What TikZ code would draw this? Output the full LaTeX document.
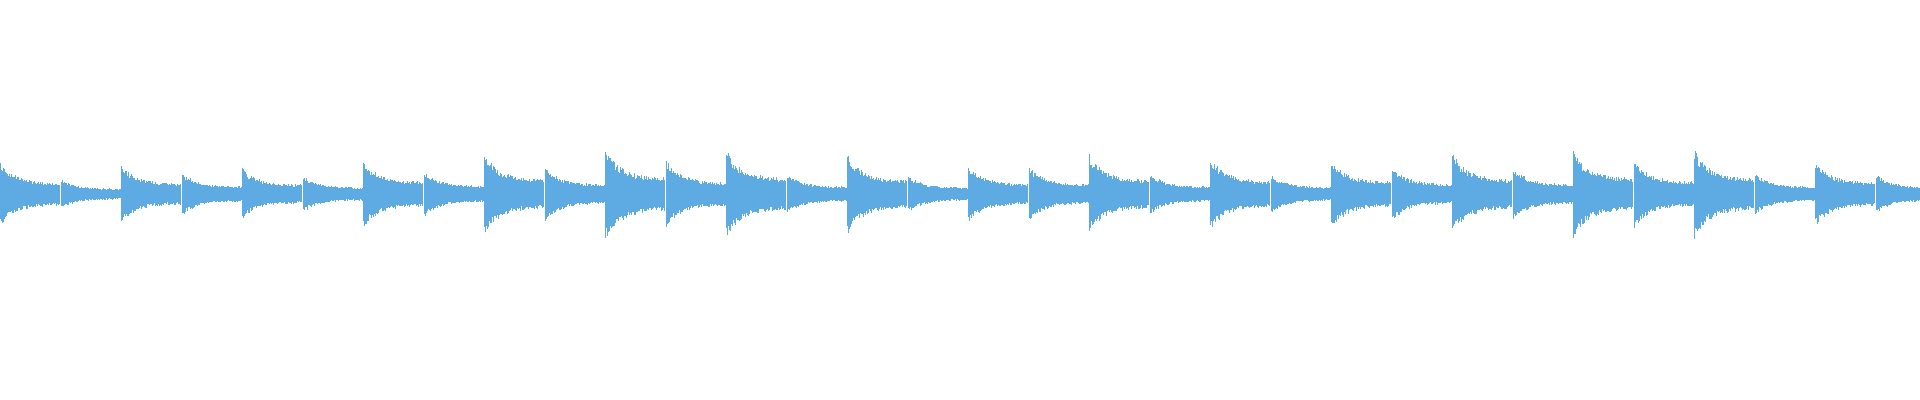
\documentclass[tikz,border=0pt]{standalone}
\usepackage{tikz}
\definecolor{wave}{RGB}{93,171,226}

\begin{document}
\begin{tikzpicture}[x=0.01cm, y=0.01cm,
	bar/.style={fill=wave, draw=none}]
	
	\useasboundingbox (0, 0) rectangle (1920, 400);
	\pgfmathsetseed{7}
	
	% one decaying burst per note: onset amplitude in pixels
	\foreach \amp [count=\n from 0] in {28,13,26,19,23,16,30,20,36,24,41,29,39,18,35,16,
	                                    25,24,35,18,32,17,31,24,36,24,39,30,39,18,29,17} {
		\pgfmathsetmacro{\xs}{\n*60.5}
		\foreach \k in {0,...,59} {
			\pgfmathsetmacro{\h}{\amp*(0.35+0.65*exp(-\k/15))*(0.85+0.3*rnd)}
			\pgfmathsetmacro{\hb}{\amp*(0.35+0.65*exp(-\k/15))*(0.85+0.3*rnd)}
			\fill[bar] (\xs+\k, 206-\hb) rectangle (\xs+\k+1.05, 206+\h);
		}
	}
	
\end{tikzpicture}
\end{document}
